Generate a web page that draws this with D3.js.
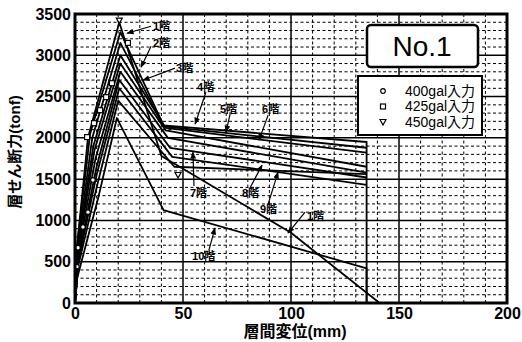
<!DOCTYPE html>
<meta charset="utf-8">
<style>
body { margin: 0; background: #fff; }
svg { display: block; font-family: "Liberation Sans", Arial, "Noto Sans CJK JP", sans-serif; }
.major { stroke: #000; stroke-width: 1.5px; }
.minor { stroke: #000; stroke-width: 1px; stroke-dasharray: 3,2.5; }
.floor { fill: none; stroke: #000; stroke-width: 1.8px; stroke-linejoin: round; }
.note { font-size: 11px; font-weight: bold; fill: #000; }
.mk { fill: #fff; stroke: #000; stroke-width: 1.2px; }
</style>
<body>
<svg width="522" height="342"></svg>
<script src="https://cdn.jsdelivr.net/npm/d3@7"></script>
<script>

// tick values
var xTicks = [0, 50, 100, 150, 200];
var yTicks = [0, 500, 1000, 1500, 2000, 2500, 3000, 3500];

// skeleton curves per floor, [displacement mm, shear tonf]
var floor1  = [[0,0],[1,700],[6,2000],[20.5,3400],[40,1780],[100,850],[141,0]];
var floor2  = [[0,0],[1.2,750],[7,2050],[21,3280],[41,2150],[135,1950],[135,0]];
var floor3  = [[0,0],[1.5,750],[8,2000],[21,3150],[41,2140],[135,1880]];
var floor4  = [[0,0],[1.5,700],[8.5,1900],[21,3000],[42,2120],[135,1820]];
var floor5  = [[0,0],[1.5,650],[9,1850],[21,2900],[42,2090],[135,1650]];
var floor6  = [[0,0],[1.5,600],[9.5,1750],[21,2800],[43,2000],[135,1580]];
var floor7  = [[0,0],[1.5,550],[10,1650],[20.5,2700],[44,1880],[135,1520]];
var floor8  = [[0,0],[1.5,500],[10,1550],[20.5,2600],[45,1770],[135,1430]];
var floor9  = [[0,0],[1.5,450],[10.5,1450],[20,2450],[46,1650],[135,1560]];
var floor10 = [[0,0],[1,300],[11,1300],[19.4,2240],[41,1125],[135,420],[135,0]];
var floors = [floor1, floor2, floor3, floor4, floor5, floor6, floor7, floor8, floor9, floor10];

// response points per input level
var pts400 = [[0.9,440],[1.4,670],[3.7,920],[6,1100],[8.3,1490]];
var pts425 = [[24.5,3150],[5.6,2009],[8.8,2178],[11.6,2335],[14.4,2493],[17.1,2662]];
var pts450 = [[20.5,3420],[47.7,1550]];

// floor labels: text at [x,y], arrow from -> to (data units)
var noteText = ["1階","2階","3階","4階","5階","6階","7階","8階","9階","1階","10階"];
var notePos  = [[36.1,3303],[36.1,3098],[46.8,2795],[56.5,2565],[67.1,2299],[86.6,2299],[53.2,1283],[77.3,1283],[85.6,1089],[107.4,1004],[54.2,520]];
var noteFrom = [[35.2,3352],[35.2,3110],[46.3,2844],[60.6,2553],[71.8,2287],[89.4,2275],[55.1,1416],[81,1392],[89.4,1198],[106.5,1101],[62,641]];
var noteTo   = [[24.1,3267],[30.6,2856],[31.5,2698],[55.6,2166],[69.9,2069],[85.2,1972],[54.6,1827],[86.6,1670],[94,1585],[98.6,847],[64.8,908]];

var legendLabels = ["400gal入力", "425gal入力", "450gal入力"];

var svg = d3.select("svg"),
    margin = {top: 14, right: 15, bottom: 39, left: 75},
    width = 522 - margin.left - margin.right,
    height = 342 - margin.top - margin.bottom;

var x = d3.scaleLinear().domain([0, 200]).range([margin.left, margin.left + width]),
    y = d3.scaleLinear().domain([0, 3500]).range([margin.top + height, margin.top]);

svg.append("defs").append("marker")
    .attr("id", "arr")
    .attr("viewBox", "0 0 10 10")
    .attr("refX", 9).attr("refY", 5)
    .attr("markerWidth", 6).attr("markerHeight", 6)
    .attr("orient", "auto")
  .append("path")
    .attr("d", "M0,1L10,5L0,9z")
    .attr("fill", "#000");

svg.append("clipPath").attr("id", "plot")
  .append("rect")
    .attr("x", margin.left).attr("y", margin.top)
    .attr("width", width).attr("height", height);

// grid
var grid = svg.append("g");
var xMinor = d3.range(10, 200, 10).filter(function(v) { return v % 50; }),
    yMinor = d3.range(100, 3500, 100).filter(function(v) { return v % 500; });

grid.selectAll(".vminor").data(xMinor).enter().append("line")
    .attr("class", "minor")
    .attr("x1", x).attr("x2", x)
    .attr("y1", y(0)).attr("y2", y(3500));
grid.selectAll(".hminor").data(yMinor).enter().append("line")
    .attr("class", "minor")
    .attr("x1", x(0)).attr("x2", x(200))
    .attr("y1", y).attr("y2", y);
grid.selectAll(".vmajor").data(xTicks).enter().append("line")
    .attr("class", "major")
    .attr("x1", x).attr("x2", x)
    .attr("y1", y(0)).attr("y2", y(3500));
grid.selectAll(".hmajor").data(yTicks).enter().append("line")
    .attr("class", "major")
    .attr("x1", x(0)).attr("x2", x(200))
    .attr("y1", y).attr("y2", y);

// curves
var line = d3.line()
    .x(function(d) { return x(d[0]); })
    .y(function(d) { return y(d[1]); });

svg.append("g").attr("clip-path", "url(#plot)")
  .selectAll(".floor").data(floors).enter().append("path")
    .attr("class", "floor")
    .attr("d", line);

// markers
var mk = svg.append("g");
mk.selectAll(".c").data(pts400).enter().append("circle")
    .attr("class", "mk")
    .attr("cx", function(d) { return x(d[0]); })
    .attr("cy", function(d) { return y(d[1]); })
    .attr("r", 2.3);
mk.selectAll(".s").data(pts425).enter().append("rect")
    .attr("class", "mk")
    .attr("x", function(d) { return x(d[0]) - 2.5; })
    .attr("y", function(d) { return y(d[1]) - 2.5; })
    .attr("width", 5).attr("height", 5);
mk.selectAll(".t").data(pts450).enter().append("path")
    .attr("class", "mk")
    .attr("transform", function(d) { return "translate(" + x(d[0]) + "," + y(d[1]) + ")"; })
    .attr("d", "M-3,-2.5L3,-2.5L0,3z");

// floor notes
var notes = svg.append("g");
notes.selectAll("line").data(noteText).enter().append("line")
    .attr("x1", function(d, i) { return x(noteFrom[i][0]); })
    .attr("y1", function(d, i) { return y(noteFrom[i][1]); })
    .attr("x2", function(d, i) { return x(noteTo[i][0]); })
    .attr("y2", function(d, i) { return y(noteTo[i][1]); })
    .attr("stroke", "#000")
    .attr("stroke-width", 1.2)
    .attr("marker-end", "url(#arr)");
notes.selectAll("text").data(noteText).enter().append("text")
    .attr("class", "note")
    .attr("x", function(d, i) { return x(notePos[i][0]); })
    .attr("y", function(d, i) { return y(notePos[i][1]); })
    .text(function(d) { return d; });

// frame
svg.append("rect")
    .attr("x", margin.left).attr("y", margin.top)
    .attr("width", width).attr("height", height)
    .attr("fill", "none")
    .attr("stroke", "#000")
    .attr("stroke-width", 3);

// axes (labels only)
var xAxis = svg.append("g")
    .attr("transform", "translate(0," + (margin.top + height) + ")")
    .call(d3.axisBottom(x).tickValues(xTicks).tickFormat(d3.format("d")).tickSize(0).tickPadding(5));

var yAxis = svg.append("g")
    .attr("transform", "translate(" + margin.left + ",0)")
    .call(d3.axisLeft(y).tickValues(yTicks).tickFormat(d3.format("d")).tickSize(0).tickPadding(4));

[xAxis, yAxis].forEach(function(g) {
  g.select(".domain").remove();
  g.attr("font-size", null).attr("font-family", null);
  g.selectAll("text")
      .attr("fill", "#000")
      .style("font-size", "16px")
      .style("font-weight", "bold");
});

svg.append("text")
    .attr("x", 295).attr("y", 337)
    .attr("text-anchor", "middle")
    .style("font-size", "16px")
    .style("font-weight", "bold")
    .text("層間変位(mm)");

svg.append("text")
    .attr("transform", "translate(20,152) rotate(-90)")
    .attr("text-anchor", "middle")
    .style("font-size", "15px")
    .style("font-weight", "bold")
    .text("層せん断力(tonf)");

// title box
svg.append("rect")
    .attr("x", 367).attr("y", 25)
    .attr("width", 111).attr("height", 42)
    .attr("rx", 4)
    .attr("fill", "#fff")
    .attr("stroke", "#000")
    .attr("stroke-width", 2.5);
svg.append("text")
    .attr("x", 422).attr("y", 56)
    .attr("text-anchor", "middle")
    .style("font-size", "28px")
    .text("No.1");

// legend
var lg = svg.append("g");
lg.append("rect")
    .attr("x", 358).attr("y", 76)
    .attr("width", 124).attr("height", 59)
    .attr("fill", "#fff")
    .attr("stroke", "#000")
    .attr("stroke-width", 2);
var row = lg.selectAll(".row").data(legendLabels).enter().append("g")
    .attr("transform", function(d, i) { return "translate(383," + (91 + i * 15.5) + ")"; });
row.append("text")
    .attr("x", 22).attr("dy", "0.35em")
    .style("font-size", "14px")
    .text(function(d) { return d; });
row.filter(function(d, i) { return i === 0; }).append("circle")
    .attr("class", "mk").attr("r", 2.3);
row.filter(function(d, i) { return i === 1; }).append("rect")
    .attr("class", "mk").attr("x", -2.5).attr("y", -2.5).attr("width", 5).attr("height", 5);
row.filter(function(d, i) { return i === 2; }).append("path")
    .attr("class", "mk").attr("d", "M-3,-2.5L3,-2.5L0,3z");

</script>
</body>
